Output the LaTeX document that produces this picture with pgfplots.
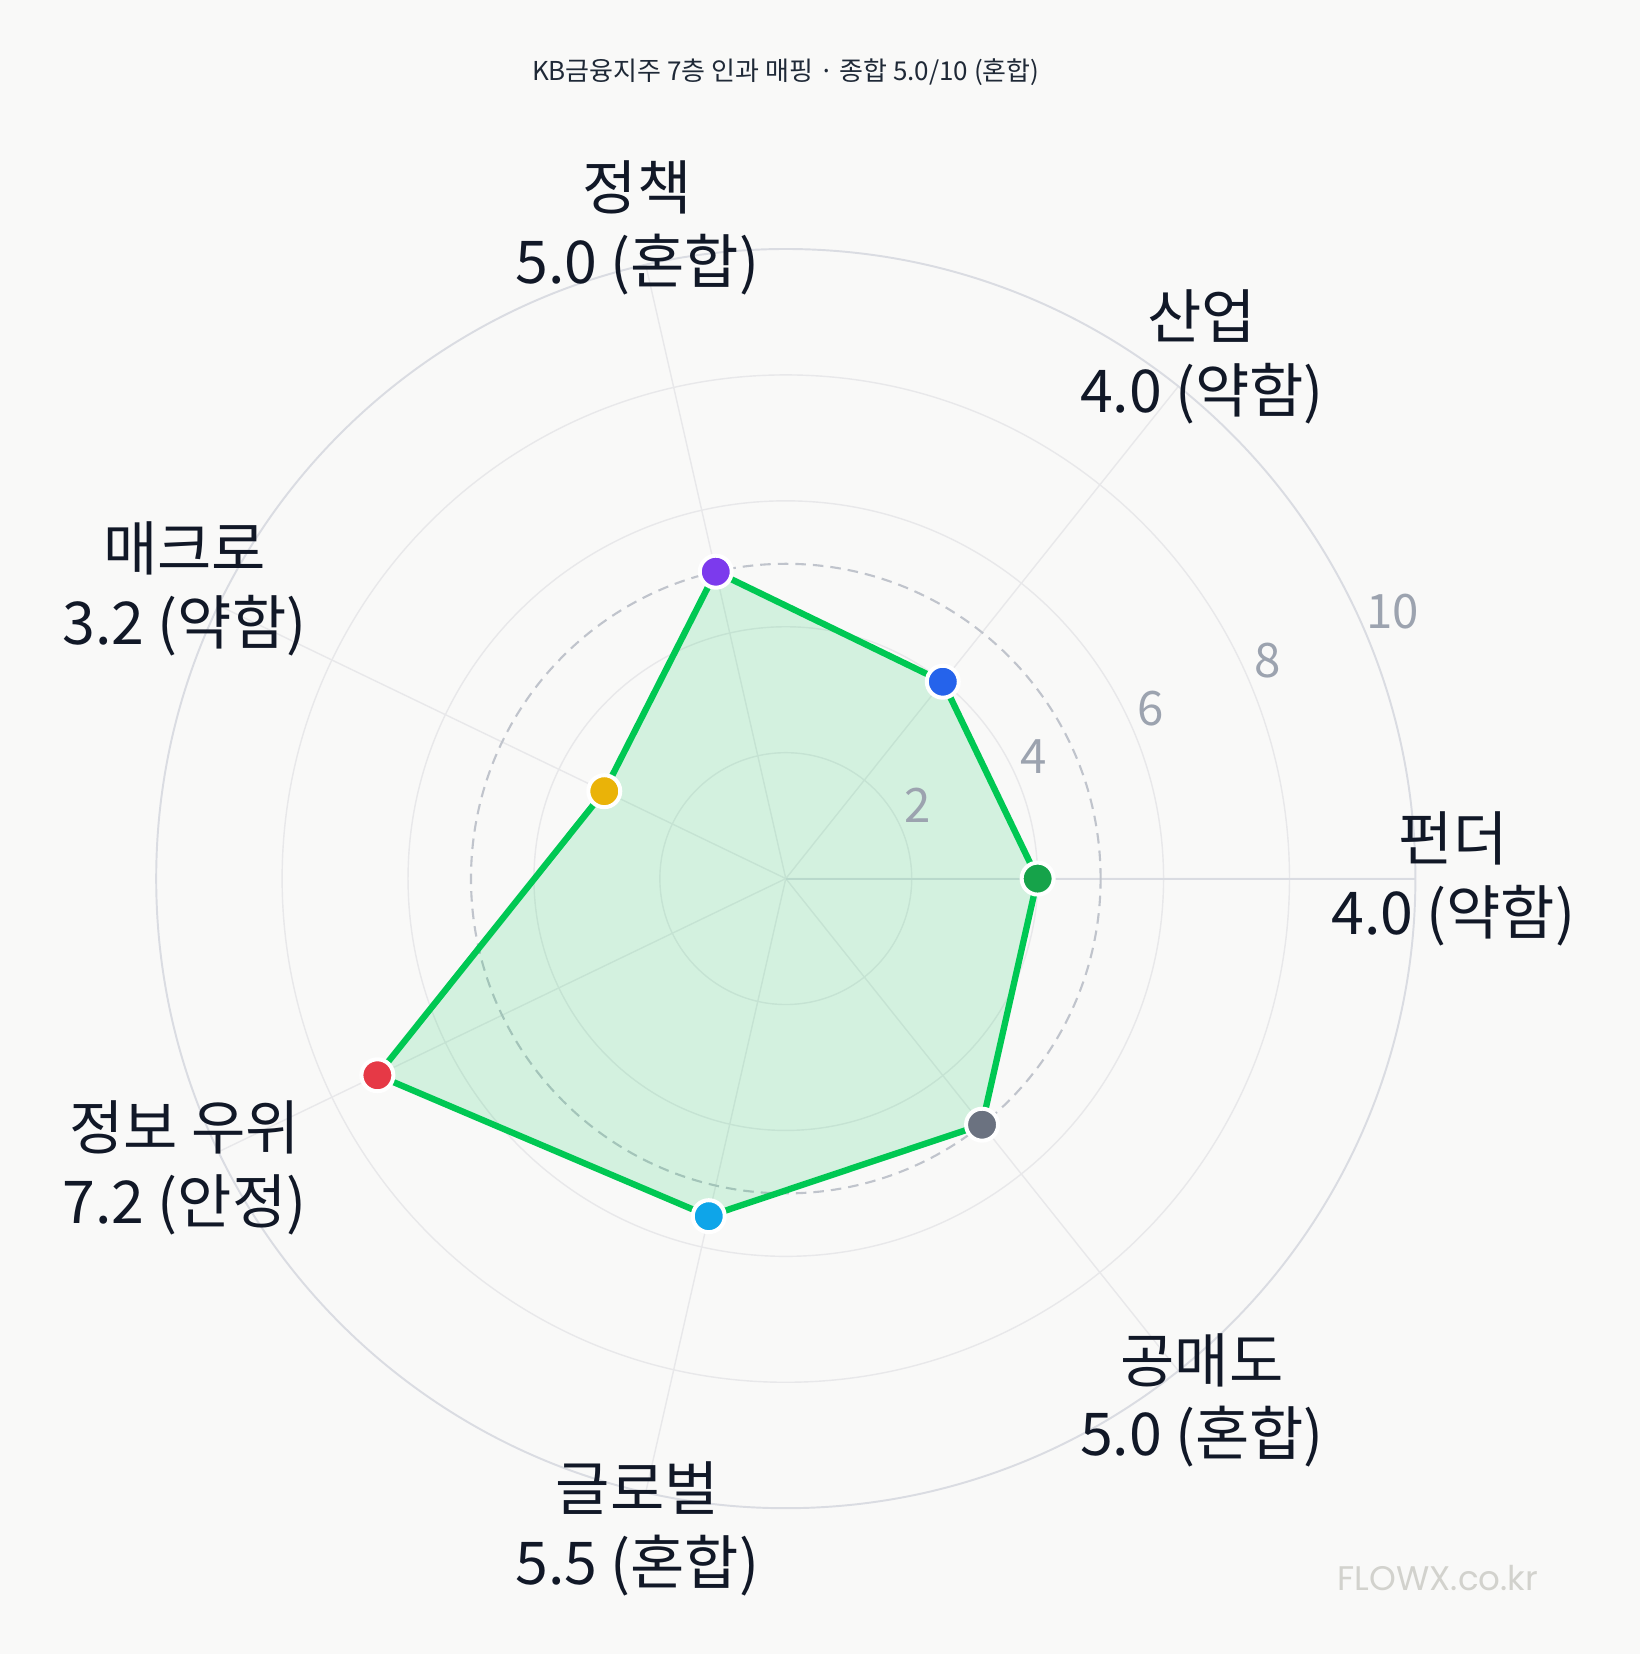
\documentclass[border=0pt]{standalone}
\usepackage{pgfplots}
\pgfplotsset{compat=1.18}
\usepgfplotslibrary{polar}
\usetikzlibrary{backgrounds}
\usepackage{fontspec}
\setmainfont{Noto Sans CJK KR}
\newfontfamily\wm{Poppins}
\definecolor{bgc}{HTML}{F9F9F8}
\definecolor{labc}{HTML}{111827}
\definecolor{titlec}{HTML}{1F2937}
\definecolor{tickc}{HTML}{9CA3AF}
\definecolor{gridc}{HTML}{E8E8EA}
\definecolor{outerc}{HTML}{DADCE2}
\definecolor{dashc}{HTML}{C0C4CC}
\definecolor{linec}{HTML}{00C853}
\definecolor{wmc}{HTML}{D2D2CD}
\definecolor{m1}{HTML}{16A34A}
\definecolor{m2}{HTML}{2563EB}
\definecolor{m3}{HTML}{7C3AED}
\definecolor{m4}{HTML}{EAB308}
\definecolor{m5}{HTML}{E63946}
\definecolor{m6}{HTML}{0EA5E9}
\definecolor{m7}{HTML}{6B7280}
\tikzset{
  lab/.style={align=center, font=\fontsize{16.8}{21}\selectfont, text=labc, inner sep=0pt},
  tl/.style={font=\fontsize{13.5}{14}\selectfont, text=tickc, inner sep=0pt},
  mk/.style={only marks, mark=*, mark size=4.55pt, mark options={fill=#1, draw=white, line width=1.14pt}},
}
\begin{document}
\begin{tikzpicture}
\begin{polaraxis}[
  scale only axis, width=12.592cm, height=12.592cm, clip=false,
  ymin=0, ymax=10,
  xtick={0,51.4286,102.857,154.286,205.714,257.143,308.571},
  xticklabels={}, yticklabels={},
  ytick={2,4,6,8},
  major tick length=0pt,
  xmajorgrids, ymajorgrids,
  grid style={color=gridc, line width=0.4pt},
  axis line style={color=outerc, line width=0.55pt},
  extra y ticks={5}, extra y tick labels={},
  extra y tick style={grid style={color=dashc, line width=0.6pt, dash pattern=on 3pt off 2pt}},
]
\addplot[draw=linec, line width=1.8pt, fill=linec, fill opacity=0.15, line join=round]
  coordinates {(0,4.0) (51.4286,4.0) (102.857,5.0) (154.286,3.2) (205.714,7.2) (257.143,5.5) (308.571,5.0) (360,4.0)};
\addplot[mk=m1] coordinates {(0,4.0)};
\addplot[mk=m2] coordinates {(51.4286,4.0)};
\addplot[mk=m3] coordinates {(102.857,5.0)};
\addplot[mk=m4] coordinates {(154.286,3.2)};
\addplot[mk=m5] coordinates {(205.714,7.2)};
\addplot[mk=m6] coordinates {(257.143,5.5)};
\addplot[mk=m7] coordinates {(308.571,5.0)};
\coordinate (O) at (axis cs:0,0);
\node[lab] at (axis cs:0,10.6) {펀더\\4.0 (약함)};
\node[lab] at (axis cs:51.4286,10.6) {산업\\4.0 (약함)};
\node[lab] at (axis cs:102.857,10.6) {정책\\5.0 (혼합)};
\node[lab] at (axis cs:154.286,10.6) {매크로\\3.2 (약함)};
\node[lab] at (axis cs:205.714,10.6) {정보 우위\\7.2 (안정)};
\node[lab] at (axis cs:257.143,10.6) {글로벌\\5.5 (혼합)};
\node[lab] at (axis cs:308.571,10.6) {공매도\\5.0 (혼합)};
\node[tl] at ([shift={(0.155cm,0.256cm)}]axis cs:22.5,2) {2};
\node[tl] at ([shift={(0.155cm,0.256cm)}]axis cs:22.5,4) {4};
\node[tl] at ([shift={(0.155cm,0.256cm)}]axis cs:22.5,6) {6};
\node[tl] at ([shift={(0.165cm,0.256cm)}]axis cs:22.5,8) {8};
\node[tl] at ([shift={(0.255cm,0.256cm)}]axis cs:22.5,10) {10};
\end{polaraxis}
\node[font=\fontsize{7.4}{9}\selectfont, text=titlec] at ([yshift=8.069cm]O) {KB금융지주 7층 인과 매핑 · 종합 5.0/10 (혼합)};
\node[font=\wm\fontsize{9.7}{10}\selectfont, text=wmc] at ([shift={(6.52cm,-6.994cm)}]O) {FLOWX.co.kr};
\pgfresetboundingbox
\path[use as bounding box] ([shift={(-7.858cm,-7.754cm)}]O) rectangle ++(16.40cm,16.54cm);
\begin{pgfonlayer}{background}
\fill[bgc] ([shift={(-7.858cm,-7.754cm)}]O) rectangle ++(16.40cm,16.54cm);
\end{pgfonlayer}
\end{tikzpicture}
\end{document}
